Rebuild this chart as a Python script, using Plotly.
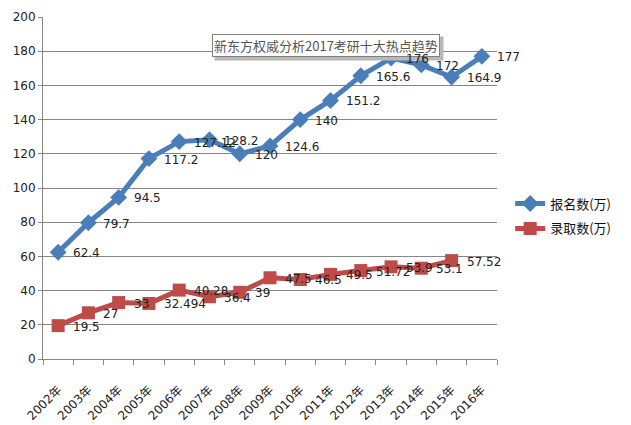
import plotly.graph_objects as go

years = ["2002年", "2003年", "2004年", "2005年", "2006年", "2007年", "2008年", "2009年",
         "2010年", "2011年", "2012年", "2013年", "2014年", "2015年", "2016年"]
applicants = [62.4, 79.7, 94.5, 117.2, 127.12, 128.2, 120, 124.6, 140, 151.2, 165.6, 176, 172, 164.9, 177]
admitted = [19.5, 27, 33, 32.494, 40.28, 36.4, 39, 47.5, 46.5, 49.5, 51.72, 53.9, 53.1, 57.52]
applicant_labels = ["62.4", "79.7", "94.5", "117.2", "127.12", "128.2", "120", "124.6", "140",
                    "151.2", "165.6", "176", "172", "164.9", "177"]
admitted_labels = ["19.5", "27", "33", "32.494", "40.28", "36.4", "39", "47.5", "46.5",
                   "49.5", "51.72", "53.9", "53.1", "57.52"]
series_names = ["报名数(万)", "录取数(万)"]
title_text = "新东方权威分析2017考研十大热点趋势"

FONT = "DejaVu Sans, Noto Sans CJK SC"
BLUE = "#4A7EBB"
RED = "#BE4B48"

fig = go.Figure()
fig.add_trace(go.Scatter(
    x=years, y=applicants, name=series_names[0], legendgroup="a", mode="lines+markers",
    line=dict(color=BLUE, width=5), marker=dict(symbol="diamond", size=13, color=BLUE),
    cliponaxis=False,
))
fig.add_trace(go.Scatter(
    x=years[:len(admitted)], y=admitted, name=series_names[1], legendgroup="b", mode="lines+markers",
    line=dict(color=RED, width=5), marker=dict(symbol="square", size=13, color=RED),
    cliponaxis=False,
))

L, R, T, B = 35, 142, 9, 74
W, H = 631, 425
pw, ph = W - L - R, H - T - B

tx = (318 - L) / pw
ty = 1 - (37 - T) / ph
# title box with shadow (drawn first so data labels near it stay visible)
fig.add_annotation(text=title_text, xref="paper", yref="paper", x=tx, y=ty,
                   xanchor="center", yanchor="middle",
                   showarrow=False, font=dict(family="Noto Sans CJK SC", size=13, color="rgba(0,0,0,0)"),
                   bgcolor="#b8b8b8", borderpad=2, xshift=3, yshift=-3)
fig.add_annotation(text=title_text, xref="paper", yref="paper", x=tx, y=ty,
                   xanchor="center", yanchor="middle",
                   showarrow=False, font=dict(family="Noto Sans CJK SC", size=13, color="#555555"),
                   bgcolor="white", bordercolor="#7f7f7f", borderwidth=1, borderpad=1)

# data labels to the right of each point
for xs, ys, labels in ((years, applicants, applicant_labels),
                       (years[:len(admitted)], admitted, admitted_labels)):
    for xv, yv, lab in zip(xs, ys, labels):
        fig.add_annotation(x=xv, y=yv, text=lab, showarrow=False, xanchor="left", yanchor="middle",
                           xshift=13, yshift=-1,
                           font=dict(family=FONT, size=12, color="#222222"))

fig.update_layout(
    width=W, height=H,
    margin=dict(l=L, r=R, t=T, b=B, autoexpand=False),
    paper_bgcolor="white", plot_bgcolor="white",
    font=dict(family=FONT, size=12, color="#222222"),
    showlegend=True,
    legend=dict(x=1.029, y=0.418, xanchor="left", yanchor="middle",
                font=dict(family="Noto Sans CJK SC", size=13, color="#111111"),
                itemwidth=30, tracegroupgap=5, bgcolor="rgba(0,0,0,0)"),
    xaxis=dict(type="category", categoryorder="array", categoryarray=years,
               tickson="boundaries", ticks="outside", ticklen=5, tickcolor="#868686",
               showline=True, linecolor="#868686", linewidth=1, showgrid=False,
               tickangle=-45, tickfont=dict(family=FONT, size=12, color="#222222"),
               ticklabelstandoff=18, automargin=False,
               range=[-0.5, len(years) - 0.5]),
    yaxis=dict(range=[0, 200], dtick=20, ticks="outside", ticklen=4, tickcolor="#868686",
               showline=True, linecolor="#868686", linewidth=1, automargin=False,
               showgrid=True, gridcolor="#868686", gridwidth=1, zeroline=False,
               tickfont=dict(family=FONT, size=12, color="#222222")),
)

fig.write_html("out.html")
